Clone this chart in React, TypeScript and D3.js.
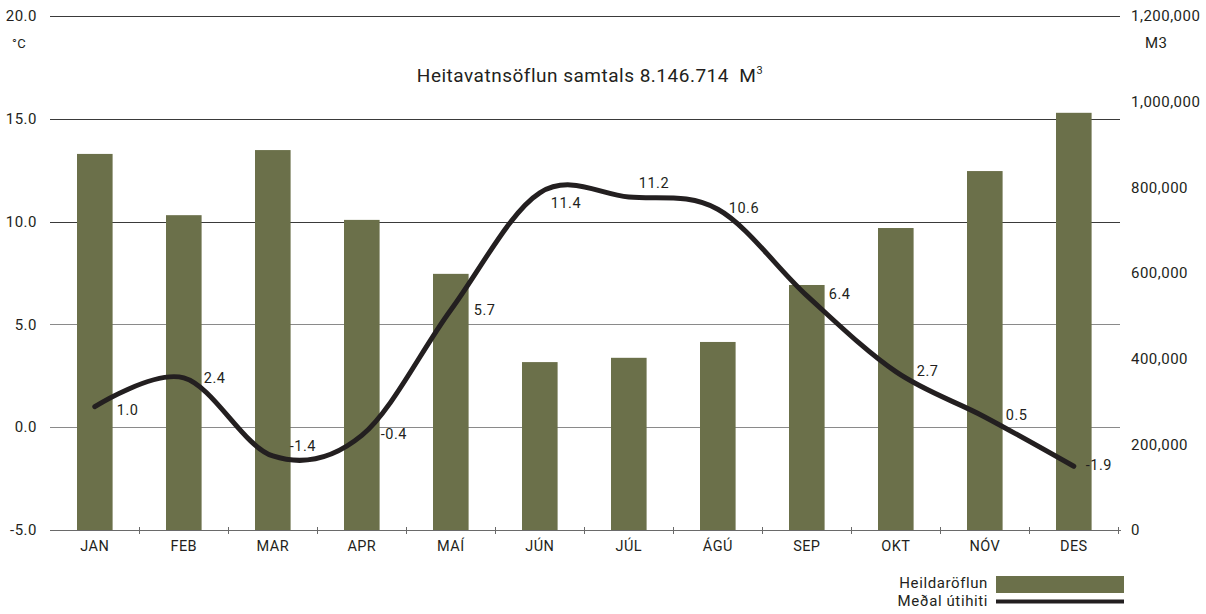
import React, { useEffect, useRef } from 'react';
import * as d3 from 'd3';

const months = ['JAN', 'FEB', 'MAR', 'APR', 'MAÍ', 'JÚN', 'JÚL', 'ÁGÚ', 'SEP', 'OKT', 'NÓV', 'DES'];
const heildaroflun = [878000, 735000, 887000, 724000, 598000, 392000, 402000, 439000, 572000, 705000, 838000, 974000];
const utihiti = [1.0, 2.4, -1.4, -0.4, 5.7, 11.4, 11.2, 10.6, 6.4, 2.7, 0.5, -1.9];
const leftTicks = [-5, 0, 5, 10, 15, 20];
const rightTicks = [0, 200000, 400000, 600000, 800000, 1000000, 1200000];

// label nudges (px) relative to each point, as placed in the original
const labelNudge: [number, number][] = [
  [22, 3], [20, 0], [17, -10], [19, -1], [23, 0], [11, 10],
  [10, -14], [11, -1], [22, -2], [21, -1], [21, -2], [12, -1],
];

const W = 1206;
const H = 614;
const FONT = 'Roboto, "Noto Sans", sans-serif';
const INK = '#231f20';
const BAR = '#6b704a';

const App: React.FC = () => {
  const svgRef = useRef<SVGSVGElement>(null);

  useEffect(() => {
    if (!svgRef.current) return;
    const svg = d3.select(svgRef.current);
    svg.selectAll('*').remove();

    const x0 = 50.3, x1 = 1118.3, yTop = 16, yBot = 530;

    const x = d3.scaleBand().domain(months).range([x0, x1]).paddingInner(0.6).paddingOuter(0.3);
    const xc = (m: string) => (x(m) || 0) + x.bandwidth() / 2;
    const yL = d3.scaleLinear().domain([-5, 20]).range([yBot, yTop]);
    const yR = d3.scaleLinear().domain([0, 1200000]).range([yBot, yTop]);

    const txt = (sel: d3.Selection<any, any, any, any>, size = 14.5, ls = 0.4) =>
      sel.attr('font-family', FONT).attr('font-size', size).attr('letter-spacing', ls).attr('fill', INK);

    // grid
    svg.append('g')
      .selectAll('line')
      .data(leftTicks.filter(t => t !== -5))
      .enter()
      .append('line')
      .attr('x1', 50).attr('x2', 1120)
      .attr('y1', d => Math.round(yL(d)) + 0.5).attr('y2', d => Math.round(yL(d)) + 0.5)
      .attr('stroke', d => (d <= 5 ? '#8a8a8a' : '#3a3a3a'))
      .attr('stroke-width', 1);

    // left axis labels
    txt(svg.append('g')
      .selectAll('text')
      .data(leftTicks)
      .enter()
      .append('text')
      .attr('x', 37).attr('y', d => yL(d))
      .attr('dy', '0.35em')
      .attr('text-anchor', 'end'), 15, 0.5)
      .text(d => d.toFixed(1));

    // right axis labels
    txt(svg.append('g')
      .selectAll('text')
      .data(rightTicks)
      .enter()
      .append('text')
      .attr('x', 1131).attr('y', d => yR(d))
      .attr('dy', '0.35em'), 15, 0.5)
      .text(d => d3.format(',')(d));

    txt(svg.append('text').attr('x', 12).attr('y', 43).attr('dy', '0.35em'), 13, 0.3).text('°C');
    txt(svg.append('text').attr('x', 1145).attr('y', 43).attr('dy', '0.35em'), 15, 0.5).text('M3');

    // title
    const title = txt(svg.append('text').attr('x', 590).attr('y', 75).attr('dy', '0.35em')
      .attr('text-anchor', 'middle'), 19, 0.5);
    title.append('tspan').text('Heitavatnsöflun samtals 8.146.714\u00a0\u00a0M');
    title.append('tspan').attr('font-size', 11).attr('dy', -8).text('3');

    // bars
    svg.append('g')
      .selectAll('rect')
      .data(heildaroflun)
      .enter()
      .append('rect')
      .attr('x', (_, i) => x(months[i]) || 0)
      .attr('y', d => yR(d))
      .attr('width', x.bandwidth())
      .attr('height', d => yBot - yR(d))
      .attr('fill', BAR);

    // bottom axis
    const axis = svg.append('g').attr('stroke', '#6a6a6a');
    axis.append('line').attr('x1', 50).attr('x2', 1121).attr('y1', yBot + 0.5).attr('y2', yBot + 0.5);
    axis.selectAll('.tk')
      .data(months)
      .enter()
      .append('line')
      .attr('class', 'tk')
      .attr('x1', (_, i) => Math.round(x0 + (i + 1) * x.step()) + 0.5)
      .attr('x2', (_, i) => Math.round(x0 + (i + 1) * x.step()) + 0.5)
      .attr('y1', yBot - 3).attr('y2', yBot + 4);

    txt(svg.append('g')
      .selectAll('text')
      .data(months)
      .enter()
      .append('text')
      .attr('x', d => xc(d)).attr('y', 546)
      .attr('dy', '0.35em')
      .attr('text-anchor', 'middle'), 14.5, 0.4)
      .text(d => d);

    // temperature line
    const line = d3.line<number>()
      .x((_, i) => xc(months[i]))
      .y(d => yL(d))
      .curve(d3.curveCardinal.tension(0));

    svg.append('path')
      .datum(utihiti)
      .attr('d', line)
      .attr('fill', 'none')
      .attr('stroke', INK)
      .attr('stroke-width', 5)
      .attr('stroke-linecap', 'round')
      .attr('stroke-linejoin', 'round');

    txt(svg.append('g')
      .selectAll('text')
      .data(utihiti)
      .enter()
      .append('text')
      .attr('x', (_, i) => xc(months[i]) + labelNudge[i][0])
      .attr('y', (d, i) => yL(d) + labelNudge[i][1])
      .attr('dy', '0.35em'), 14.5, 0.5)
      .text(d => d.toFixed(1));

    // legend
    const lg = svg.append('g');
    txt(lg.append('text').attr('x', 988).attr('y', 583).attr('dy', '0.35em').attr('text-anchor', 'end'), 15, 0.6)
      .text('Heildaröflun');
    lg.append('rect').attr('x', 996).attr('y', 576).attr('width', 128).attr('height', 17).attr('fill', BAR);
    txt(lg.append('text').attr('x', 988).attr('y', 601).attr('dy', '0.35em').attr('text-anchor', 'end'), 15, 0.6)
      .text('Meðal útihiti');
    lg.append('line').attr('x1', 996).attr('x2', 1124).attr('y1', 601.5).attr('y2', 601.5)
      .attr('stroke', INK).attr('stroke-width', 4);
  }, []);

  return (
    <svg
      ref={svgRef}
      width={W}
      height={H}
      style={{ position: 'absolute', left: 0, top: 0, background: '#fff' }}
    />
  );
};

export default App;
